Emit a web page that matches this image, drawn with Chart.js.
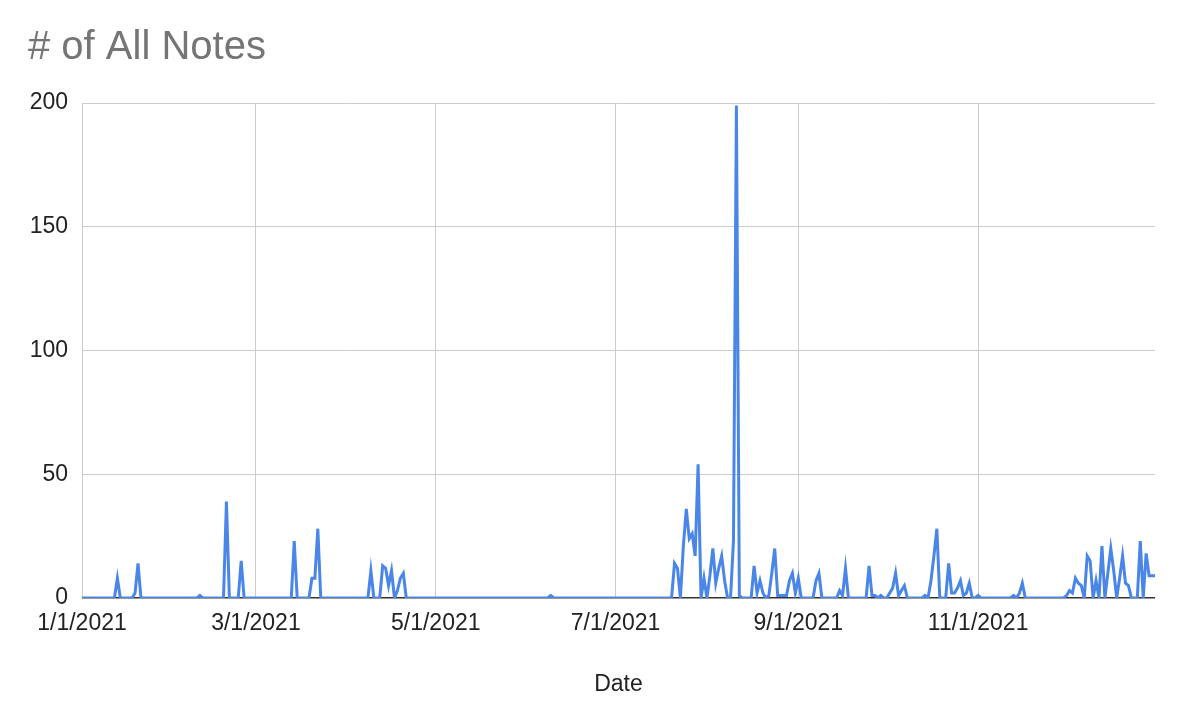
<!DOCTYPE html>
<html>
<head>
<meta charset="utf-8">
<script src="https://cdn.jsdelivr.net/npm/chart.js@4.4.1/dist/chart.umd.min.js"></script>
<style>
  html, body { margin: 0; padding: 0; background: #ffffff; }
  #wrap { width: 1182px; height: 708px; }
</style>
</head>
<body>
<div id="wrap"><canvas id="c" width="1182" height="708"></canvas></div>
<script>
// Daily "# of All Notes" in 2021, one array per month
const jan = [0,0,0,0,0,0,0,0,0,0, 0,0,8,0,0,0,0,0,2,14, 0,0,0,0,0,0,0,0,0,0, 0];
const feb = [0,0,0,0,0,0,0,0,0,1, 0,0,0,0,0,0,0,0,39,0, 0,0,0,15,0,0,0,0];
const mar = [0,0,0,0,0,0,0,0,0,0, 0,0,0,23,0,0,0,0,0,8, 8,28,0,0,0,0,0,0,0,0, 0];
const apr = [0,0,0,0,0,0,0,0,11,0, 0,0,13,12,5,11,0,3,8,10, 0,0,0,0,0,0,0,0,0,0];
const may = [0,0,0,0,0,0,0,0,0,0, 0,0,0,0,0,0,0,0,0,0, 0,0,0,0,0,0,0,0,0,0, 0];
const jun = [0,0,0,0,0,0,0,0,1,0, 0,0,0,0,0,0,0,0,0,0, 0,0,0,0,0,0,0,0,0,0];
const jul = [0,0,0,0,0,0,0,0,0,0, 0,0,0,0,0,0,0,0,0,0, 14,12,0,21,36,24,26,17,54,0, 8];
const aug = [0,9,20,6,12,17,7,0,0,23, 199,1,0,0,0,0,13,2,7,2, 0,1,10,20,1,1,1,1,7,10, 2];
const sep = [8,0,0,0,0,0,7,10,0,0, 0,0,0,0,3,1,12,0,0,0, 0,0,0,0,13,1,1,0,1,0];
const oct = [0,2,4,10,1,3,5,0,0,0, 0,0,0,1,0,7,17,28,0,0, 0,14,2,2,4,7,1,2,6,0, 0];
const nov = [1,0,0,0,0,0,0,0,0,0, 0,0,1,0,2,6,0,0,0,0, 0,0,0,0,0,0,0,0,0,0];
const dec = [1,3,2,8,6,5,0,17,15,0, 7,0,21,0,10,20,11,0,8,17, 6,5,0,0,0,23,0,18,9,9, 9];

// x-axis tick labels and their day-of-year positions
const tickLabels = ["1/1/2021","3/1/2021","5/1/2021","7/1/2021","9/1/2021","11/1/2021"];
const tickDays   = [0, 59, 120, 181, 243, 304];
const yTicks     = [0, 50, 100, 150, 200];

const notes = [].concat(jan, feb, mar, apr, may, jun, jul, aug, sep, oct, nov, dec);
const points = notes.map((v, i) => ({ x: i, y: v }));

const FONT = "'Liberation Sans', Arial, sans-serif";

new Chart(document.getElementById('c'), {
  type: 'line',
  data: {
    datasets: [{
      label: '# of All Notes',
      data: points,
      borderColor: '#4a86e8',
      backgroundColor: '#4a86e8',
      borderWidth: 3,
      pointRadius: 0,
      pointHoverRadius: 0,
      tension: 0,
      fill: false
    }]
  },
  options: {
    responsive: false,
    animation: false,
    layout: { padding: { left: 28, right: 27, top: 0, bottom: 0 } },
    plugins: {
      legend: { display: false },
      tooltip: { enabled: false },
      title: {
        display: true,
        text: '# of All Notes',
        align: 'start',
        color: '#757575',
        font: { family: FONT, size: 40, weight: 'normal' },
        padding: { top: 24, bottom: 31 }
      }
    },
    scales: {
      x: {
        type: 'linear',
        min: 0,
        max: notes.length - 1,
        afterBuildTicks: s => { s.ticks = tickDays.map(v => ({ value: v })); },
        afterFit: s => { s.height = 110; },
        ticks: {
          autoSkip: false,
          maxRotation: 0,
          padding: 12,
          color: '#222222',
          font: { family: FONT, size: 23 },
          callback: (v) => { const k = tickDays.indexOf(v); return k >= 0 ? tickLabels[k] : ''; }
        },
        grid: { color: '#cccccc', lineWidth: 1, drawTicks: false },
        border: { display: false },
        title: {
          display: true,
          text: 'Date',
          color: '#222222',
          font: { family: FONT, size: 23 },
          padding: { top: 0, bottom: 10 }
        }
      },
      y: {
        min: 0,
        max: 200,
        afterBuildTicks: s => { s.ticks = yTicks.map(v => ({ value: v })); },
        afterFit: s => { s.width = 54; },
        ticks: {
          padding: 14,
          color: '#222222',
          font: { family: FONT, size: 23 }
        },
        grid: {
          color: c => (c.tick && c.tick.value === 0) ? '#333333' : '#cccccc',
          lineWidth: c => (c.tick && c.tick.value === 0) ? 1.5 : 1,
          drawTicks: false
        },
        border: { display: false }
      }
    }
  }
});
</script>
</body>
</html>
